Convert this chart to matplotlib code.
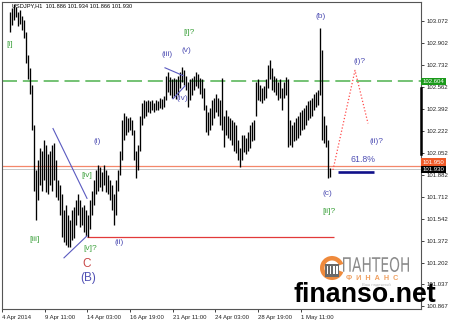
import numpy as np
import matplotlib
matplotlib.use('Agg')
import matplotlib.pyplot as plt
from matplotlib.transforms import blended_transform_factory, IdentityTransform, Affine2D
from matplotlib.patches import Wedge, Rectangle, PathPatch
from matplotlib.textpath import TextPath
from matplotlib.font_manager import FontProperties

plt.rcParams['font.family'] = ['Liberation Sans', 'DejaVu Sans']

# ---------------- data ----------------
header_text = "USDJPY,H1  101.886 101.934 101.866 101.930"

# hourly bar index (H1 bars since 4 Apr 2014), sampled every 3 bars
bar_index = list(range(12, 493, 3))
highs = [
    103.14, 103.17, 103.20, 103.18, 103.14, 103.16, 103.11, 103.08, 102.99, 102.81,
    102.71, 102.58, 102.27, 101.92, 102.00, 102.09, 102.07, 102.15, 102.11, 102.04,
    102.07, 102.11, 102.13, 102.00, 101.84, 101.80, 101.73, 101.61, 101.65, 101.57,
    101.53, 101.61, 101.63, 101.69, 101.73, 101.69, 101.63, 101.65, 101.61, 101.57,
    101.69, 101.76, 101.84, 101.92, 101.96, 101.94, 101.90, 101.96, 101.92, 101.88,
    101.84, 101.80, 101.73, 101.84, 101.92, 102.07, 102.31, 102.36, 102.34, 102.32,
    102.33, 102.31, 102.23, 102.07, 102.11, 102.34, 102.44, 102.46, 102.45, 102.46,
    102.45, 102.46, 102.44, 102.46, 102.45, 102.48, 102.47, 102.49, 102.65, 102.68,
    102.64, 102.62, 102.63, 102.62, 102.65, 102.68, 102.72, 102.69, 102.65, 102.60,
    102.62, 102.63, 102.65, 102.68, 102.66, 102.63, 102.62, 102.55, 102.42, 102.37,
    102.40, 102.46, 102.48, 102.51, 102.48, 102.46, 102.63, 102.34, 102.38, 102.34,
    102.32, 102.31, 102.29, 102.27, 102.15, 102.09, 102.19, 102.19, 102.17, 102.21,
    102.27, 102.29, 102.31, 102.60, 102.62, 102.58, 102.55, 102.57, 102.62, 102.73,
    102.77, 102.71, 102.65, 102.63, 102.60, 102.62, 102.55, 102.60, 102.64, 102.62,
    102.31, 102.27, 102.29, 102.32, 102.34, 102.37, 102.38, 102.40, 102.42, 102.45,
    102.46, 102.48, 102.51, 102.52, 102.54, 103.02, 102.85, 102.34, 102.27, 102.15,
    101.934,
]
lows = [
    102.99, 103.04, 103.08, 103.10, 103.03, 103.05, 103.00, 102.94, 102.75, 102.62,
    102.51, 102.23, 101.76, 101.53, 101.69, 101.80, 101.76, 101.84, 101.75, 101.73,
    101.80, 101.76, 101.84, 101.71, 101.69, 101.57, 101.40, 101.36, 101.34, 101.32,
    101.32, 101.38, 101.39, 101.49, 101.57, 101.48, 101.49, 101.44, 101.41, 101.40,
    101.46, 101.57, 101.65, 101.73, 101.76, 101.79, 101.76, 101.80, 101.75, 101.73,
    101.69, 101.61, 101.49, 101.57, 101.76, 101.88, 102.00, 102.15, 102.19, 102.21,
    102.23, 102.19, 102.00, 101.86, 101.92, 102.07, 102.27, 102.32, 102.34, 102.37,
    102.36, 102.38, 102.37, 102.38, 102.38, 102.40, 102.39, 102.41, 102.46, 102.52,
    102.50, 102.48, 102.49, 102.47, 102.50, 102.55, 102.60, 102.58, 102.54, 102.41,
    102.46, 102.50, 102.54, 102.57, 102.55, 102.51, 102.48, 102.38, 102.21, 102.19,
    102.23, 102.27, 102.32, 102.37, 102.34, 102.27, 102.23, 102.10, 102.19, 102.17,
    102.15, 102.11, 102.07, 102.05, 102.00, 101.94, 102.00, 102.06, 102.04, 102.07,
    102.09, 102.14, 102.15, 102.34, 102.46, 102.45, 102.44, 102.46, 102.48, 102.55,
    102.62, 102.54, 102.52, 102.50, 102.46, 102.48, 102.38, 102.48, 102.50, 102.10,
    102.11, 102.10, 102.14, 102.15, 102.17, 102.19, 102.23, 102.24, 102.27, 102.31,
    102.32, 102.34, 102.38, 102.41, 102.42, 102.50, 102.15, 102.13, 102.10, 101.86,
    101.866,
]

time_ticks = [0, 64, 128, 192, 256, 320, 384, 448]
time_labels = ["4 Apr 2014", "9 Apr 11:00", "14 Apr 03:00", "16 Apr 19:00",
               "21 Apr 11:00", "24 Apr 03:00", "28 Apr 19:00", "1 May 11:00"]
price_ticks = [103.072, 102.902, 102.732, 102.562, 102.392, 102.222, 102.052,
               101.882, 101.712, 101.542, 101.372, 101.202, 101.037, 100.867]

resistance_level = 102.604
marker_level = 101.950
bid_level = 101.930
support_level = 101.40
support_span = [127.5, 498]
fib_level = 101.90
fib_span = [504, 558]

trend_lines = [
    ([76.5, 127.5], [102.24, 101.70]),
    ([93, 127.5], [101.24, 101.41]),
    ([244.5, 271.5], [102.71, 102.65]),
    ([256.5, 274.5], [102.47, 102.57]),
]
forecast_x = [496.5, 529.5, 549]
forecast_y = [101.92, 102.69, 102.28]

BLUE = '#5050b4'
GREEN = '#3ea23e'
labels = [
    ("[i]", 12, 102.89, GREEN, 6),
    ("[iii]", 49.5, 101.38, GREEN, 6),
    ("[iv]", 127.5, 101.88, GREEN, 6),
    ("[v]?", 133, 101.31, GREEN, 6),
    ("C", 127.5, 101.19, '#c84848', 8.5),
    ("(B)", 129, 101.08, BLUE, 8.5),
    ("(ii)", 175.5, 101.36, BLUE, 6),
    ("(i)", 142.5, 102.14, BLUE, 6),
    ("(iii)", 247.5, 102.81, BLUE, 6),
    ("(v)", 276, 102.84, BLUE, 6),
    ("[i]?", 280, 102.98, GREEN, 6),
    ("(iv)", 270, 102.47, BLUE, 6),
    ("(b)", 478.5, 103.11, BLUE, 6),
    ("(i)?", 536, 102.76, BLUE, 6),
    ("(ii)?", 561, 102.14, BLUE, 6),
    ("(c)", 487.5, 101.74, BLUE, 6),
    ("[ii]?", 491, 101.60, GREEN, 6),
    ("61.8%", 541.5, 102.00, BLUE, 6.3),
]

# ---------------- figure ----------------
W, H = 450, 321
fig = plt.figure(figsize=(W / 100, H / 100), dpi=100)
fig.patch.set_facecolor('white')
ax = fig.add_axes([2 / W, 12 / H, 419 / W, 307 / H])
ax.set_facecolor('white')
ax.set_xlim(0, 628.5)
ax.set_ylim(100.844, 103.219)

ax.vlines(bar_index, lows, highs, color='black', lw=0.95, zorder=3)

# horizontal levels
ax.axhline(resistance_level, color='#5cb85c', lw=1.2, dashes=(9, 3.5), zorder=2)
ax.axhline(marker_level, color='#f4876a', lw=0.9, zorder=2)
ax.axhline(bid_level, color='#c8c8c8', lw=0.7, zorder=1)
ax.hlines(support_level, support_span[0], support_span[1], color='#e23a3a', lw=0.9, zorder=2)
ax.hlines(fib_level, fib_span[0], fib_span[1], color='#10108a', lw=1.9, zorder=4)

for xs, ys in trend_lines:
    ax.plot(xs, ys, color='#5a5ac0', lw=0.8, zorder=4)
ax.plot(forecast_x, forecast_y, color='#ff4a4a', lw=0.9, ls=(0, (1, 1.6)), zorder=4)

for txt, x, y, c, s in labels:
    ax.text(x, y, txt, color=c, fontsize=s, ha='center', va='center', zorder=5)

# axes styling
for sp in ax.spines.values():
    sp.set_color('#555555')
    sp.set_linewidth(0.8)
ax.yaxis.tick_right()
ax.set_yticks(price_ticks)
ax.set_yticklabels([f"{v:.3f}" for v in price_ticks])
ax.tick_params(axis='y', direction='out', length=2.5, width=0.6, pad=1.5,
               labelsize=4.3, colors='#222222')
ax.set_xticks(time_ticks)
ax.set_xticklabels(time_labels, ha='left')
ax.tick_params(axis='x', direction='out', length=2.5, width=0.6, pad=2.0,
               labelsize=4.3, colors='#222222')

# thick segment on right scale
ax.plot([1.0, 1.0], [102.55, 102.04], color='black', lw=1.8,
        transform=blended_transform_factory(ax.transAxes, ax.transData),
        clip_on=False, zorder=6)

bt = blended_transform_factory(ax.transAxes, ax.transData)
ax.text(1.004, marker_level + 0.03, f"{marker_level:.3f}", transform=bt, fontsize=4.3,
        color='white', ha='left', va='center', zorder=7,
        bbox=dict(boxstyle='square,pad=0.2', fc='#f05a28', ec='none'))
ax.text(1.004, bid_level - 0.005, f"{bid_level:.3f}", transform=bt, fontsize=4.3,
        color='white', ha='left', va='center', zorder=8,
        bbox=dict(boxstyle='square,pad=0.2', fc='black', ec='none'))
ax.text(1.004, resistance_level, f"{resistance_level:.3f}", transform=bt, fontsize=4.3,
        color='white', ha='left', va='center', zorder=7,
        bbox=dict(boxstyle='square,pad=0.2', fc='#1a9a1a', ec='none'))

# header
ax.text(10 / 419, (309 - 6) / 307, header_text, transform=ax.transAxes, fontsize=4.1,
        color='black', ha='left', va='center', zorder=6)

# ---------------- watermark ----------------
def px(x, y):
    return x, H - y

# logo icon
cx, cy = px(332, 268)
fig.add_artist(Wedge((cx, cy), 12, 20, 340, width=4.5, fc='#ef8a3c', ec='none',
                     transform=IdentityTransform(), zorder=8))
fig.add_artist(Rectangle((cx - 7, cy - 9), 14, 13, fc='#6a6a6a', ec='none',
                         transform=IdentityTransform(), zorder=8))
for k in range(4):
    fig.add_artist(Rectangle((cx - 5.5 + k * 3.3, cy - 6), 1.4, 8, fc='white', ec='none',
                             transform=IdentityTransform(), zorder=9))

# ПАНТЕОН stretched text
tp = TextPath((0, 0), "ПАНТЕОН", size=1, prop=FontProperties(family='DejaVu Sans'))
ext = tp.get_extents()
sx = 66 / ext.width
sy = 15 / ext.height
x0, y0 = px(343, 272)
tr = Affine2D().translate(-ext.x0, -ext.y0).scale(sx, sy).translate(x0, y0)
fig.add_artist(PathPatch(tr.transform_path(tp), fc='#8a8a8a', ec='none',
                         transform=IdentityTransform(), zorder=8))
fx, fy = px(346, 279)
fig.text(fx / W, fy / H, "Ф  И  Н  А  Н  С", fontsize=5.2, color='#f0a060',
         fontweight='bold', ha='left', va='center', zorder=8)
gx, gy = px(362, 285)
fig.text(gx / W, gy / H, "Ваш надежный", fontsize=3.0, color='#b8b8b8',
         ha='left', va='center', zorder=8)

bx, by = px(293, 302)
fig.text(bx / W, by / H, "finanso.net", fontsize=19.3, fontweight='bold',
         color='black', ha='left', va='baseline', zorder=10)

fig.savefig('out.png', dpi=100, facecolor='white')
